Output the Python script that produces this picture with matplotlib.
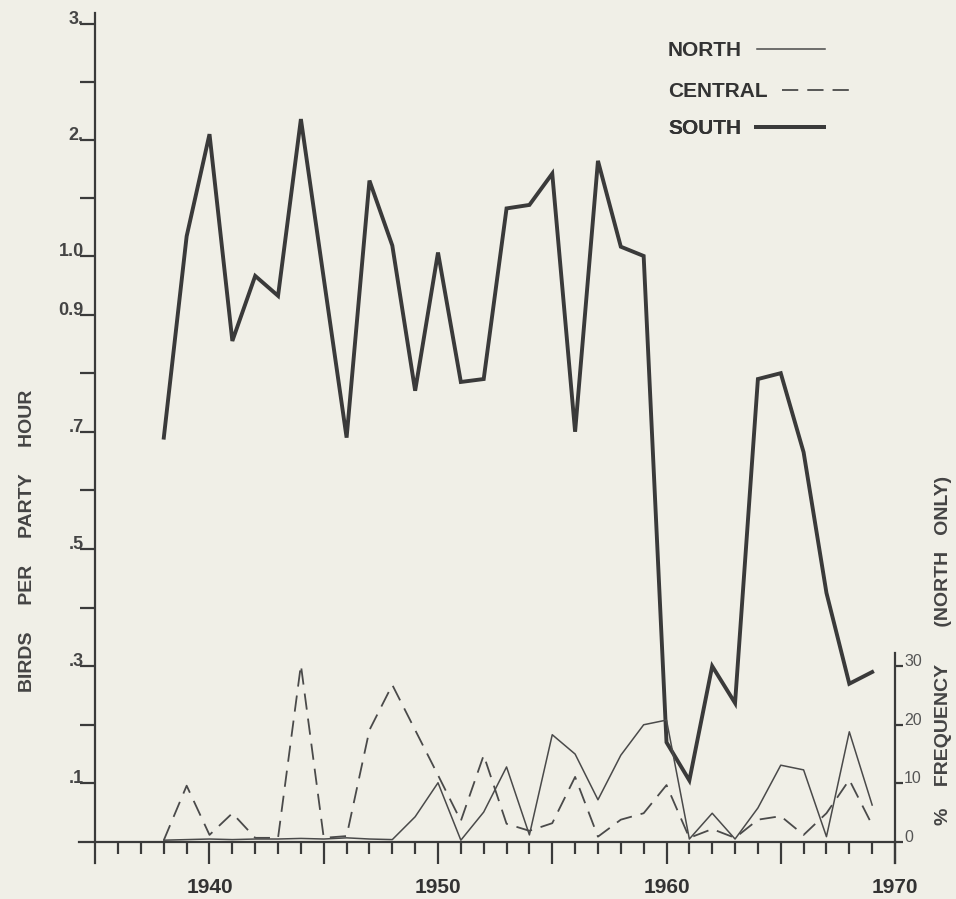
import numpy as np
import matplotlib
matplotlib.use("Agg")
import matplotlib.pyplot as plt

plt.rcParams['font.family'] = ['Liberation Sans', 'DejaVu Sans']

# years of the count
years = list(range(1938, 1970))

# thin solid: % frequency, north only (right axis)
north = [0.3, 0.4, 0.5, 0.4, 0.5, 0.5, 0.6, 0.5, 0.7, 0.5, 0.4,
         4.3, 10.1, 0.3, 5.1, 12.8, 1.2, 18.3, 15.0, 7.2, 14.8, 20.0,
         20.8, 0.5, 4.9, 0.5, 5.8, 13.1, 12.3, 0.9, 18.8, 6.3]

# dashed: birds per party hour, central
central = [0.003, 0.096, 0.012, 0.049, 0.007, 0.007, 0.302, 0.007, 0.010,
           0.191, 0.268, 0.191, 0.114, 0.036, 0.148, 0.031, 0.019, 0.032,
           0.111, 0.009, 0.038, 0.049, 0.097, 0.007, 0.022, 0.007, 0.038,
           0.044, 0.012, 0.049, 0.106, 0.029]

# thick: birds per party hour, south (no 1945 point)
south_years = [1938, 1939, 1940, 1941, 1942, 1943, 1944, 1946, 1947, 1948,
               1949, 1950, 1951, 1952, 1953, 1954, 1955, 1956, 1957, 1958,
               1959, 1960, 1961, 1962, 1963, 1964, 1965, 1966, 1967, 1968,
               1969]
south = [0.69, 1.17, 2.05, 0.855, 0.966, 0.932, 2.18, 0.69, 1.65, 1.09,
         0.77, 1.03, 0.785, 0.79, 1.41, 1.44, 1.71, 0.70, 1.82, 1.08,
         1.0, 0.17, 0.105, 0.30, 0.237, 0.79, 0.80, 0.665, 0.425, 0.27,
         0.29]

left_ticks = [0.1, 0.3, 0.5, 0.7, 0.9, 1.0, 2.0, 3.0]
left_labels = ['.1', '.3', '.5', '.7', '0.9', '1.0', '2.', '3.']
left_minor = [0.2, 0.4, 0.6, 0.8, 1.5, 2.5]
right_ticks = [0, 10, 20, 30]
x_major = [1940, 1945, 1950, 1955, 1960, 1965, 1970]
x_labels = ['1940', '', '1950', '', '1960', '', '1970']
series_names = ['NORTH', 'CENTRAL', 'SOUTH']

K = 0.198  # compression of the axis above 1.0


def fwd(y):
    y = np.asarray(y, dtype=float)
    return np.where(y <= 1, y, 1 + (y - 1) * K)


def inv(u):
    u = np.asarray(u, dtype=float)
    return np.where(u <= 1, u, 1 + (u - 1) / K)


ink = '#3a3a3a'
paper = '#f0efe7'

fig = plt.figure(figsize=(9.56, 8.99), dpi=100, facecolor=paper)
ax = fig.add_axes([0.0829, 0.04, 0.8533, 0.9455])
ax.set_facecolor(paper)
ax.set_yscale('function', functions=(fwd, inv))
ax.set_xlim(1934.3, 1970)
ax.set_ylim(-0.036, 3.094)

ax2 = ax.twinx()
ax2.set_ylim(-3.6, 141.47)

south_line, = ax.plot(south_years, south, color=ink, lw=2.8,
                      solid_joinstyle='miter')
central_line, = ax.plot(years, central, color='#4a4a4a', lw=1.3,
                        dashes=(9, 5))
north_line, = ax2.plot(years, north, color='#4a4a4a', lw=1.1)

for s in ['top', 'right']:
    ax.spines[s].set_visible(False)
for s in ['top', 'left', 'bottom']:
    ax2.spines[s].set_visible(False)
ax.spines['left'].set_position(('data', 1935))
ax.spines['bottom'].set_position(('data', 0))
ax.spines['bottom'].set_bounds(1934.3, 1970)
ax2.spines['right'].set_bounds(-3.6, 32.3)
for sp in [ax.spines['left'], ax.spines['bottom'], ax2.spines['right']]:
    sp.set_color(ink)
    sp.set_linewidth(1.6)

ax.set_xticks(x_major)
ax.set_xticklabels(x_labels)
ax.set_xticks([y for y in range(1936, 1970) if y % 5], minor=True)
ax.tick_params(axis='x', which='major', length=15.8, width=1.6, color=ink,
               pad=10, labelsize=15)
ax.tick_params(axis='x', which='minor', length=8.6, width=1.6, color=ink)
for lbl in ax.get_xticklabels():
    lbl.set_fontweight('bold')
    lbl.set_color('#333333')

ax.set_yticks(left_ticks)
ax.set_yticklabels(left_labels)
ax.set_yticks(left_minor, minor=True)
ax.set_yticklabels([], minor=True)
ax.tick_params(axis='y', which='both', length=10.8, width=1.6, color=ink,
               pad=-2.5, labelsize=13)
for lbl in ax.get_yticklabels():
    lbl.set_fontweight('bold')
    lbl.set_color('#444444')
    lbl.set_verticalalignment('baseline')

ax2.set_yticks(right_ticks)
ax2.set_yticklabels([str(t) for t in right_ticks])
ax2.tick_params(axis='y', length=6, width=1.6, color=ink, pad=0.5,
                labelsize=11.5, labelcolor='#555555')
for lbl in ax2.get_yticklabels():
    lbl.set_verticalalignment('baseline')

fig.text(28 / 956, 1 - 541 / 899, 'BIRDS     PER     PARTY     HOUR',
         rotation=90, ha='center', va='center', fontsize=14,
         fontweight='bold', color='#444444')
fig.text(943 / 956, 1 - 650 / 899, '%    FREQUENCY       (NORTH   ONLY)',
         rotation=90, ha='center', va='center', fontsize=14,
         fontweight='bold', color='#444444')

# key: text on the left, line sample right after it, one row each
row_tops = [41, 82, 119]
for handle, name, top in zip([north_line, central_line, south_line],
                             series_names, row_tops):
    leg = ax.legend([handle], [name], markerfirst=False, frameon=False,
                    handlelength=3.3, handletextpad=0.7, borderpad=0,
                    borderaxespad=0, loc='upper left',
                    bbox_to_anchor=(668 / 956, 1 - top / 899),
                    bbox_transform=fig.transFigure,
                    prop=dict(weight='bold', size=15))
    leg.get_texts()[0].set_color('#333333')
    ax.add_artist(leg)

fig.savefig('out.png', dpi=100, facecolor=paper)
